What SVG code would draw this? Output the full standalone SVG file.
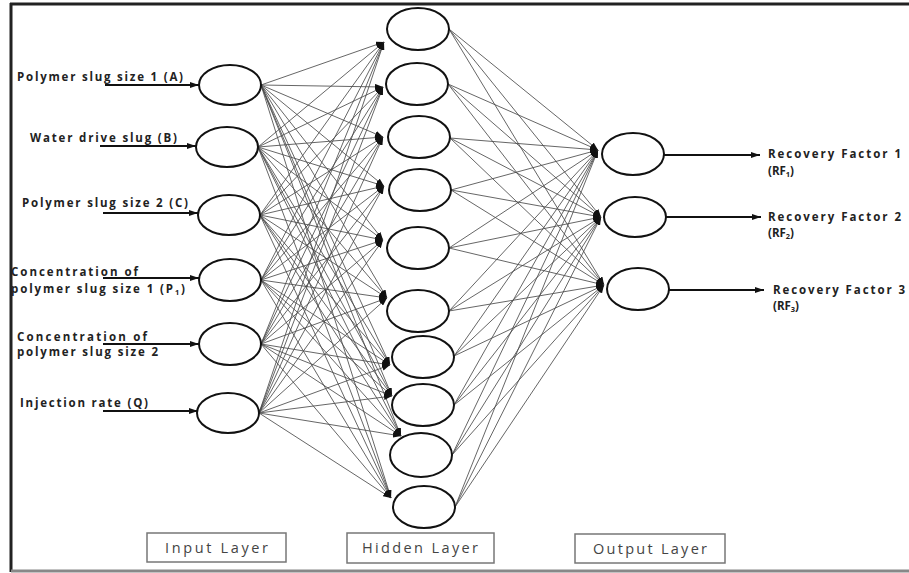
<svg xmlns="http://www.w3.org/2000/svg" width="909" height="573" viewBox="0 0 909 573">
<style>
.node{fill:#fff;stroke:#111;stroke-width:2}
.conn line{stroke:#4a4a4a;stroke-width:0.85}
.conn line.arr{stroke:#111;stroke-width:2}
.lbl{font-family:"Open Sans","Liberation Sans",Arial,sans-serif;font-weight:bold;font-size:11.5px;fill:#222}
.sub{font-size:7.5px}
.box{fill:#fff;stroke:#777;stroke-width:1.5}
.btxt{font-family:"Open Sans","Liberation Sans",Arial,sans-serif;font-size:14.5px;fill:#444;text-anchor:middle}
</style>
<defs>
<marker id="ah" markerUnits="userSpaceOnUse" markerWidth="8" markerHeight="6" refX="8" refY="3" orient="auto"><path d="M0,0L8,3L0,6z" fill="#111"/></marker>
<marker id="ab" markerUnits="userSpaceOnUse" markerWidth="9" markerHeight="6" refX="9" refY="3" orient="auto"><path d="M0,0L9,3L0,6z" fill="#111"/></marker>
</defs>
<rect width="909" height="573" fill="#fff"/>
<g id="connectors" class="conn">
<g marker-end="url(#ah)">
<line x1="261" y1="85" x2="384" y2="42"/><line x1="261" y1="85" x2="383" y2="87"/><line x1="261" y1="85" x2="383" y2="137"/><line x1="261" y1="85" x2="384" y2="186"/><line x1="261" y1="85" x2="383" y2="240"/><line x1="261" y1="85" x2="387" y2="298"/><line x1="261" y1="85" x2="390" y2="365"/><line x1="261" y1="85" x2="392" y2="396"/><line x1="261" y1="85" x2="401" y2="436"/><line x1="261" y1="85" x2="391" y2="498"/>
<line x1="258" y1="147" x2="384" y2="42"/><line x1="258" y1="147" x2="383" y2="87"/><line x1="258" y1="147" x2="383" y2="137"/><line x1="258" y1="147" x2="384" y2="186"/><line x1="258" y1="147" x2="383" y2="240"/><line x1="258" y1="147" x2="387" y2="298"/><line x1="258" y1="147" x2="390" y2="365"/><line x1="258" y1="147" x2="392" y2="396"/><line x1="258" y1="147" x2="401" y2="436"/><line x1="258" y1="147" x2="391" y2="498"/>
<line x1="260" y1="215" x2="384" y2="42"/><line x1="260" y1="215" x2="383" y2="87"/><line x1="260" y1="215" x2="383" y2="137"/><line x1="260" y1="215" x2="384" y2="186"/><line x1="260" y1="215" x2="383" y2="240"/><line x1="260" y1="215" x2="387" y2="298"/><line x1="260" y1="215" x2="390" y2="365"/><line x1="260" y1="215" x2="392" y2="396"/><line x1="260" y1="215" x2="401" y2="436"/><line x1="260" y1="215" x2="391" y2="498"/>
<line x1="261" y1="280" x2="384" y2="42"/><line x1="261" y1="280" x2="383" y2="87"/><line x1="261" y1="280" x2="383" y2="137"/><line x1="261" y1="280" x2="384" y2="186"/><line x1="261" y1="280" x2="383" y2="240"/><line x1="261" y1="280" x2="387" y2="298"/><line x1="261" y1="280" x2="390" y2="365"/><line x1="261" y1="280" x2="392" y2="396"/><line x1="261" y1="280" x2="401" y2="436"/><line x1="261" y1="280" x2="391" y2="498"/>
<line x1="261" y1="344" x2="384" y2="42"/><line x1="261" y1="344" x2="383" y2="87"/><line x1="261" y1="344" x2="383" y2="137"/><line x1="261" y1="344" x2="384" y2="186"/><line x1="261" y1="344" x2="383" y2="240"/><line x1="261" y1="344" x2="387" y2="298"/><line x1="261" y1="344" x2="390" y2="365"/><line x1="261" y1="344" x2="392" y2="396"/><line x1="261" y1="344" x2="401" y2="436"/><line x1="261" y1="344" x2="391" y2="498"/>
<line x1="259" y1="413" x2="384" y2="42"/><line x1="259" y1="413" x2="383" y2="87"/><line x1="259" y1="413" x2="383" y2="137"/><line x1="259" y1="413" x2="384" y2="186"/><line x1="259" y1="413" x2="383" y2="240"/><line x1="259" y1="413" x2="387" y2="298"/><line x1="259" y1="413" x2="390" y2="365"/><line x1="259" y1="413" x2="392" y2="396"/><line x1="259" y1="413" x2="401" y2="436"/><line x1="259" y1="413" x2="391" y2="498"/>
<line x1="449" y1="29" x2="598" y2="150"/><line x1="449" y1="29" x2="601" y2="217"/><line x1="449" y1="29" x2="604" y2="285"/>
<line x1="448" y1="84" x2="598" y2="150"/><line x1="448" y1="84" x2="601" y2="217"/><line x1="448" y1="84" x2="604" y2="285"/>
<line x1="450" y1="138" x2="598" y2="150"/><line x1="450" y1="138" x2="601" y2="217"/><line x1="450" y1="138" x2="604" y2="285"/>
<line x1="451" y1="190" x2="598" y2="150"/><line x1="451" y1="190" x2="601" y2="217"/><line x1="451" y1="190" x2="604" y2="285"/>
<line x1="449" y1="248" x2="598" y2="150"/><line x1="449" y1="248" x2="601" y2="217"/><line x1="449" y1="248" x2="604" y2="285"/>
<line x1="449" y1="311" x2="598" y2="150"/><line x1="449" y1="311" x2="601" y2="217"/><line x1="449" y1="311" x2="604" y2="285"/>
<line x1="454" y1="356" x2="598" y2="150"/><line x1="454" y1="356" x2="601" y2="217"/><line x1="454" y1="356" x2="604" y2="285"/>
<line x1="454" y1="405" x2="598" y2="150"/><line x1="454" y1="405" x2="601" y2="217"/><line x1="454" y1="405" x2="604" y2="285"/>
<line x1="452" y1="455" x2="598" y2="150"/><line x1="452" y1="455" x2="601" y2="217"/><line x1="452" y1="455" x2="604" y2="285"/>
<line x1="455" y1="507" x2="598" y2="150"/><line x1="455" y1="507" x2="601" y2="217"/><line x1="455" y1="507" x2="604" y2="285"/>
</g>
<g marker-end="url(#ab)">
<line class="arr" x1="105" y1="85" x2="199" y2="85"/>
<line class="arr" x1="100" y1="146" x2="196" y2="146"/>
<line class="arr" x1="103" y1="213" x2="198" y2="213"/>
<line class="arr" x1="103" y1="278" x2="199" y2="278"/>
<line class="arr" x1="103" y1="344" x2="199" y2="344"/>
<line class="arr" x1="103" y1="411" x2="198" y2="411"/>
<line class="arr" x1="664" y1="155" x2="760" y2="155"/>
<line class="arr" x1="666" y1="217" x2="761" y2="217"/>
<line class="arr" x1="669" y1="290" x2="764" y2="290"/>
</g>
</g>
<g id="in1"><ellipse class="node" cx="230" cy="85" rx="31" ry="20"/><text class="lbl" x="17" y="81" textLength="166" lengthAdjust="spacing">Polymer slug size 1 (A)</text></g>
<g id="in2"><ellipse class="node" cx="227" cy="147" rx="31" ry="20"/><text class="lbl" x="30" y="142" textLength="147" lengthAdjust="spacing">Water drive slug (B)</text></g>
<g id="in3"><ellipse class="node" cx="229" cy="215" rx="31" ry="20"/><text class="lbl" x="22" y="207" textLength="166" lengthAdjust="spacing">Polymer slug size 2 (C)</text></g>
<g id="in4"><ellipse class="node" cx="230" cy="280" rx="31" ry="21"/><text class="lbl" x="11" y="276" textLength="127" lengthAdjust="spacing">Concentration of</text><text class="lbl" x="11" y="293" textLength="174" lengthAdjust="spacing">polymer slug size 1 (P<tspan class="sub" dy="2">1</tspan><tspan dy="-2">)</tspan></text></g>
<g id="in5"><ellipse class="node" cx="230" cy="344" rx="31" ry="21"/><text class="lbl" x="17" y="341" textLength="130" lengthAdjust="spacing">Concentration of</text><text class="lbl" x="17" y="356" textLength="141" lengthAdjust="spacing">polymer slug size 2</text></g>
<g id="in6"><ellipse class="node" cx="228" cy="413" rx="31" ry="20"/><text class="lbl" x="20" y="407" textLength="128" lengthAdjust="spacing">Injection rate (Q)</text></g>
<g id="h1"><ellipse class="node" cx="418" cy="29" rx="31" ry="21"/></g>
<g id="h2"><ellipse class="node" cx="417" cy="84" rx="31" ry="21"/></g>
<g id="h3"><ellipse class="node" cx="419" cy="137" rx="31" ry="21"/></g>
<g id="h4"><ellipse class="node" cx="420" cy="190" rx="31" ry="21"/></g>
<g id="h5"><ellipse class="node" cx="418" cy="248" rx="31" ry="21"/></g>
<g id="h6"><ellipse class="node" cx="418" cy="311" rx="31" ry="21"/></g>
<g id="h7"><ellipse class="node" cx="423" cy="357" rx="31" ry="21"/></g>
<g id="h8"><ellipse class="node" cx="423" cy="405" rx="31" ry="21"/></g>
<g id="h9"><ellipse class="node" cx="421" cy="455" rx="31" ry="22"/></g>
<g id="h10"><ellipse class="node" cx="424" cy="507" rx="31" ry="21"/></g>
<g id="o1"><ellipse class="node" cx="633" cy="154" rx="31" ry="21"/><text class="lbl" x="768" y="158" textLength="133" lengthAdjust="spacing">Recovery Factor 1</text><text class="lbl" x="768" y="175">(RF<tspan class="sub" dy="2">1</tspan><tspan dy="-2">)</tspan></text></g>
<g id="o2"><ellipse class="node" cx="635" cy="217" rx="31" ry="20"/><text class="lbl" x="768" y="221" textLength="133" lengthAdjust="spacing">Recovery Factor 2</text><text class="lbl" x="768" y="237">(RF<tspan class="sub" dy="2">2</tspan><tspan dy="-2">)</tspan></text></g>
<g id="o3"><ellipse class="node" cx="638" cy="289" rx="31" ry="21"/><text class="lbl" x="773" y="294" textLength="132" lengthAdjust="spacing">Recovery Factor 3</text><text class="lbl" x="773" y="310">(RF<tspan class="sub" dy="2">3</tspan><tspan dy="-2">)</tspan></text></g>
<g id="legend-input"><rect class="box" x="147" y="533" width="139" height="29"/><text class="btxt" x="216.5" y="553" textLength="103" lengthAdjust="spacing">Input Layer</text></g>
<g id="legend-hidden"><rect class="box" x="347" y="533" width="147" height="30"/><text class="btxt" x="420" y="553" textLength="116" lengthAdjust="spacing">Hidden Layer</text></g>
<g id="legend-output"><rect class="box" x="575" y="534" width="150" height="29"/><text class="btxt" x="650" y="554" textLength="114" lengthAdjust="spacing">Output Layer</text></g>
<g id="frame">
<line x1="10" y1="4" x2="909" y2="4" stroke="#222" stroke-width="3"/>
<line x1="11" y1="3" x2="11" y2="572" stroke="#222" stroke-width="3"/>
<line x1="11" y1="571" x2="909" y2="571" stroke="#888" stroke-width="3"/>
</g>
</svg>
